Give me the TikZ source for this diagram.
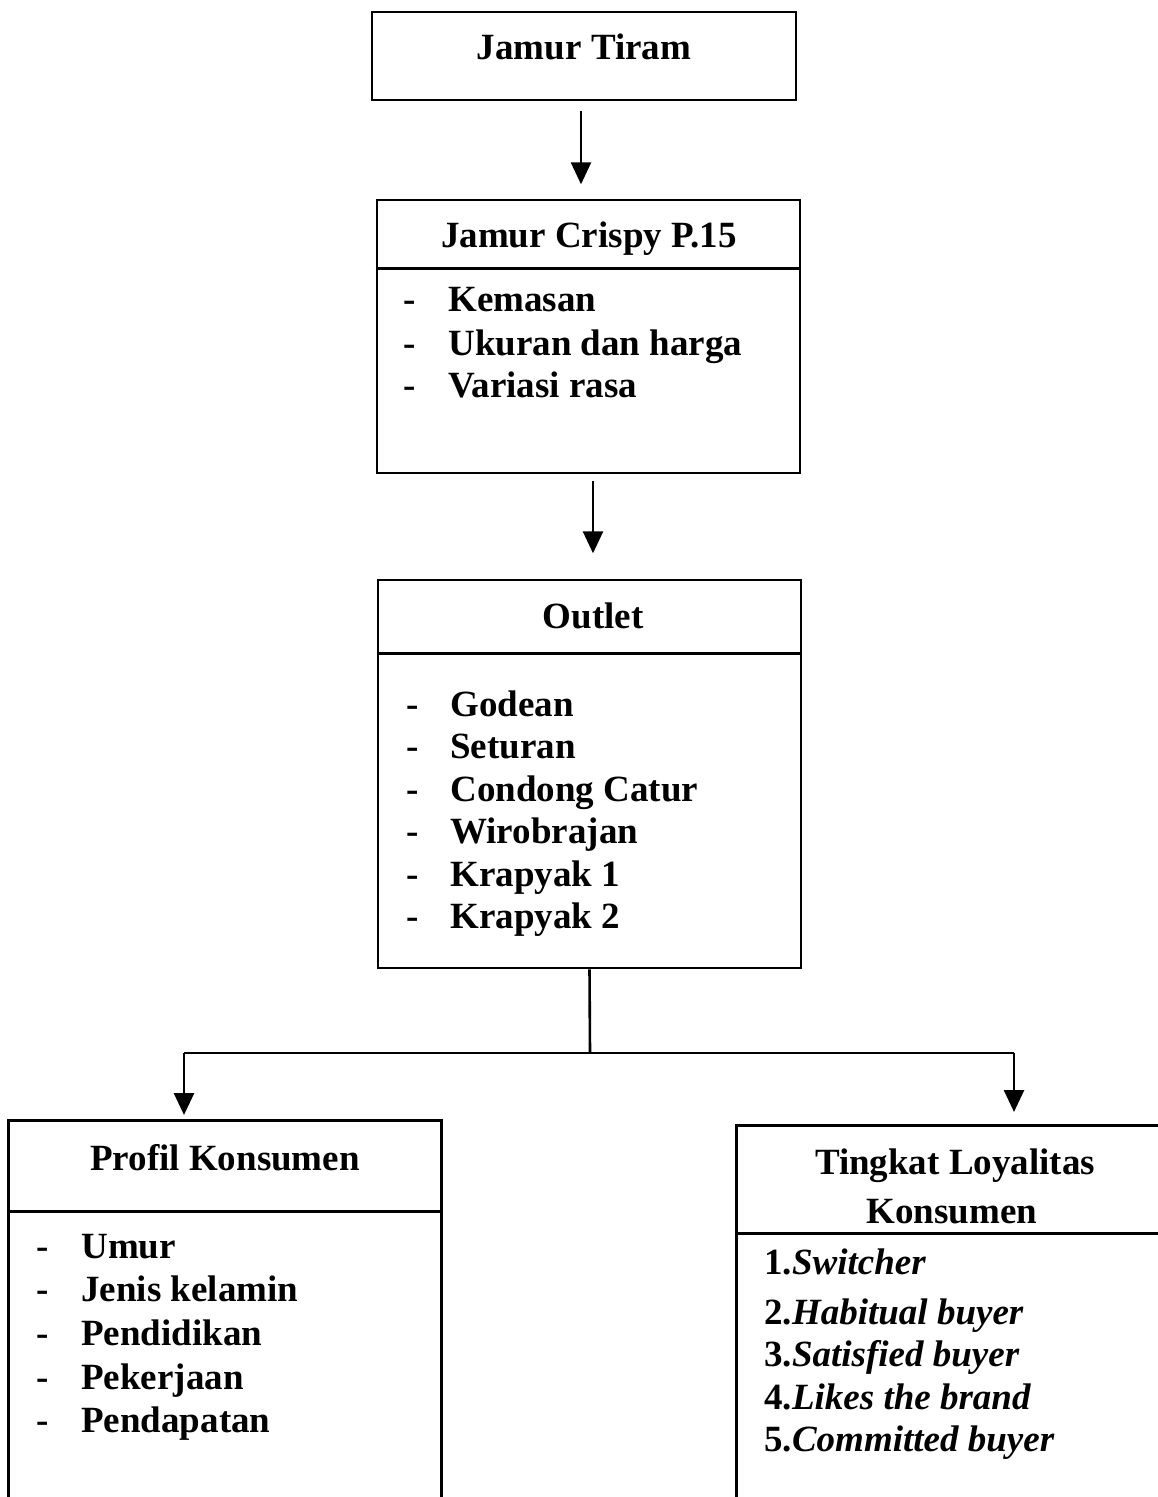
\documentclass[tikz,border=0pt]{standalone}
\usepackage{fontspec}
\setmainfont{Liberation Serif}
\usetikzlibrary{arrows.meta}
\begin{document}
\begin{tikzpicture}[x=0.5pt,y=-0.5pt,
  line width=1.3pt,
  every node/.style={font=\fontsize{18.5pt}{22pt}\selectfont\bfseries, inner sep=0pt},
  frame/.style={draw, line width=1.3pt, inner sep=0pt},
  area/.style={draw=none, inner sep=0pt},
  arr/.style={-{Triangle[width=10pt,length=11pt]}, line width=1.3pt},
  txt/.style={anchor=base west},
  ttl/.style={anchor=base}
]
\useasboundingbox (0,0) rectangle (1157,1497);

% Box 1
\node[frame, minimum width=212pt, minimum height=44pt] (b1) at (584,56) {};
\node[ttl] (t1) at (584,60) {Jamur Tiram};

% Box 2
\node[frame, minimum width=211.5pt, minimum height=136.5pt] (b2) at (588.5,336.5) {};
\draw ([yshift=-35pt]b2.north west) -- ([yshift=-35pt]b2.north east);
\node[ttl] (t2) at (589,248) {Jamur Crispy P.15};
\foreach \t/\y [count=\i] in {Kemasan/312, Ukuran dan harga/356, Variasi rasa/398} {
  \node[txt] (bd\i) at (402,\y) {-};
  \node[txt] (bi\i) at (447,\y) {\t};
}

% Box 3
\node[frame, minimum width=211.5pt, minimum height=194pt] (b3) at (589.5,774) {};
\draw ([yshift=-37.5pt]b3.north west) -- ([yshift=-37.5pt]b3.north east);
\node[ttl] (t3) at (593,628) {Outlet};
\foreach \t/\y [count=\i] in {Godean/716, Seturan/758, Condong Catur/801, Wirobrajan/843, Krapyak 1/886, Krapyak 2/928} {
  \node[txt] (cd\i) at (405,\y) {-};
  \node[txt] (ci\i) at (449,\y) {\t};
}

% Box 4 (open at bottom)
\node[area, minimum width=215pt, minimum height=187.5pt] (b4) at (225,1309.5) {};
\draw (b4.south west) -- (b4.north west) -- (b4.north east) -- (b4.south east);
\draw ([yshift=-45.5pt]b4.north west) -- ([yshift=-45.5pt]b4.north east);
\node[ttl] (t4) at (225,1170) {Profil Konsumen};
\foreach \t/\y [count=\i] in {Umur/1258, Jenis kelamin/1301, Pendidikan/1345, Pekerjaan/1389, Pendapatan/1432} {
  \node[txt] (pd\i) at (35,\y) {-};
  \node[txt] (pi\i) at (80,\y) {\t};
}

% Box 5 (open at right and bottom)
\node[area, minimum width=209.5pt, minimum height=185pt] (b5) at (947.5,1312) {};
\draw (b5.south west) -- (b5.north west) -- (b5.north east);
\draw ([yshift=-54pt]b5.north west) -- ([yshift=-54pt]b5.north east);
\node[ttl] (t5a) at (955,1174) {Tingkat Loyalitas};
\node[ttl] (t5b) at (952,1223) {Konsumen};
\node[txt] (l1) at (763,1274) {1.\textit{Switcher}};
\node[txt] (l2) at (763,1324) {2.\textit{Habitual buyer}};
\node[txt] (l3) at (763,1366) {3.\textit{Satisfied buyer}};
\node[txt] (l4) at (763,1409) {4.\textit{Likes the brand}};
\node[txt] (l5) at (763,1451) {5.\textit{Committed buyer}};

% Connectors
\draw[arr] ([xshift=-1.5pt,yshift=-5pt]b1.south) -- ++(0,73);
\draw[arr] ([xshift=2.25pt,yshift=-3.5pt]b2.south) -- ++(0,72);
\coordinate (split) at (590,1053);
\coordinate (lsplit) at (184,1053);
\coordinate (rsplit) at (1014,1053);
\draw (b3.south) -- (split);
\draw (lsplit) -- (rsplit);
\draw[arr] (lsplit) -- ++(0,62);
\draw[arr] (rsplit) -- ++(0,59);
\end{tikzpicture}
\end{document}
